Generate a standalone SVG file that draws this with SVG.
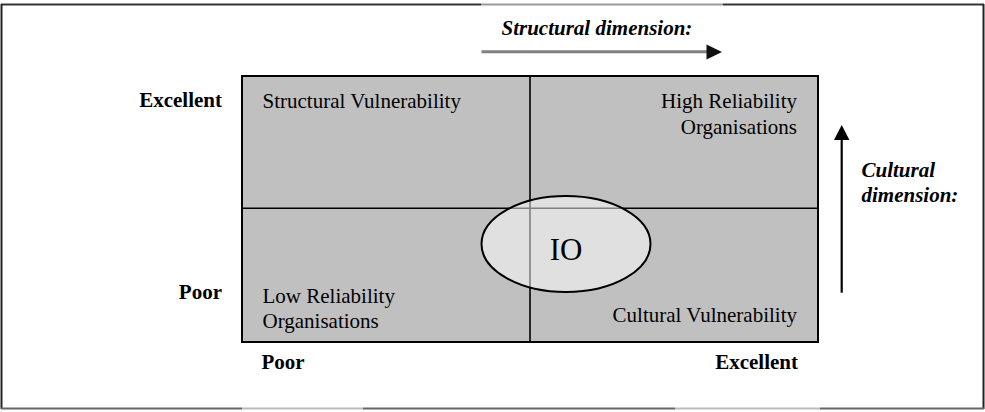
<svg xmlns="http://www.w3.org/2000/svg" width="985" height="412" viewBox="0 0 985 412">
  <defs>
    <style>
      text { font-family: 'Liberation Serif', 'DejaVu Serif', serif; font-size: 21px; fill: #000; }
      .bold { font-weight: bold; }
      .bi { font-weight: bold; font-style: italic; }
      .cell { fill: #c0c0c0; stroke: none; }
      .grid { stroke: #000; stroke-width: 2; fill: none; }
      .div { stroke: #000; stroke-width: 1.6; }
    </style>
  </defs>

  <rect width="985" height="412" fill="#fff"/>

  <!-- outer frame -->
  <g id="frame" fill="none" stroke-width="2">
    <line x1="1" y1="4.5" x2="481" y2="4.5" stroke="#333"/>
    <line x1="481" y1="4.5" x2="723" y2="4.5" stroke="#999"/>
    <line x1="723" y1="4.5" x2="984" y2="4.5" stroke="#333"/>
    <line x1="1.5" y1="4" x2="1.5" y2="409" stroke="#222"/>
    <line x1="983.5" y1="4" x2="983.5" y2="409" stroke="#222"/>
    <line x1="1" y1="408.5" x2="242" y2="408.5" stroke="#666"/>
    <line x1="242" y1="408.5" x2="363" y2="408.5" stroke="#bbb"/>
    <line x1="363" y1="408.5" x2="675" y2="408.5" stroke="#666"/>
    <line x1="675" y1="408.5" x2="820" y2="408.5" stroke="#bbb"/>
    <line x1="820" y1="408.5" x2="984" y2="408.5" stroke="#666"/>
  </g>

  <!-- quadrant matrix -->
  <g id="matrix">
    <rect class="cell" x="242" y="76" width="576" height="266"/>
    <line class="div" x1="530" y1="76" x2="530" y2="342"/>
    <line class="div" x1="242" y1="208.3" x2="818" y2="208.3"/>
    <rect class="grid" x="242" y="76" width="576" height="266"/>
  </g>

  <g id="q-structural">
    <text x="262.5" y="107.5">Structural Vulnerability</text>
  </g>
  <g id="q-high">
    <text x="797" y="107.5" text-anchor="end">High Reliability</text>
    <text x="797" y="133.5" text-anchor="end">Organisations</text>
  </g>
  <g id="q-low">
    <text x="262.5" y="303">Low Reliability</text>
    <text x="262.5" y="328">Organisations</text>
  </g>
  <g id="q-cultural">
    <text x="797" y="322" text-anchor="end">Cultural Vulnerability</text>
  </g>

  <!-- IO ellipse: half-transparent white so the grid lines show through -->
  <g id="io">
    <ellipse cx="566" cy="244" rx="84.5" ry="48" fill="#fff" fill-opacity="0.5" stroke="#000" stroke-width="2"/>
    <text x="566" y="260" text-anchor="middle" style="font-size:31px">IO</text>
  </g>

  <!-- axis labels -->
  <g id="y-axis-labels">
    <text class="bold" x="222" y="107" text-anchor="end">Excellent</text>
    <text class="bold" x="222" y="298.5" text-anchor="end">Poor</text>
  </g>
  <g id="x-axis-labels">
    <text class="bold" x="261.5" y="368.5">Poor</text>
    <text class="bold" x="798" y="368.5" text-anchor="end">Excellent</text>
  </g>

  <!-- dimension arrows -->
  <g id="connectors">
    <line x1="481.5" y1="51.7" x2="708" y2="51.7" stroke="#808080" stroke-width="3"/>
    <polygon points="706.5,44.5 722,52 706.5,59.5" fill="#111"/>
    <line x1="841.7" y1="292.7" x2="841.7" y2="139" stroke="#000" stroke-width="2.2"/>
    <polygon points="834,140 841.7,125 849.4,140" fill="#000"/>
  </g>

  <g id="structural-dimension">
    <text class="bi" x="501.5" y="35">Structural dimension:</text>
  </g>
  <g id="cultural-dimension">
    <text class="bi" x="861.5" y="177">Cultural</text>
    <text class="bi" x="861.5" y="201.5">dimension:</text>
  </g>
</svg>
